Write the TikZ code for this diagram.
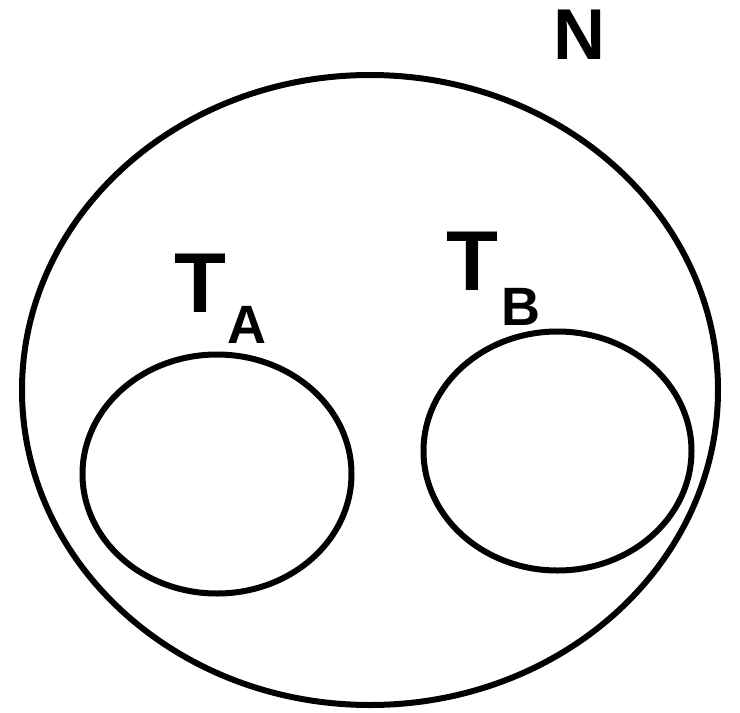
\documentclass[tikz,border=0pt]{standalone}
\usepackage{fontspec}
\setmainfont{Liberation Sans}
\begin{document}
\begin{tikzpicture}[x=1pt,y=-1pt,
  ring/.style={line width=6pt,draw=black},
  lbl/.style={inner sep=0pt,font=\bfseries}]
\useasboundingbox (0,0) rectangle (740,713);
\draw[ring] (370,390) ellipse [x radius=348, y radius=315];
\draw[ring] (217,474) ellipse [x radius=134.5, y radius=119.5];
\draw[ring] (557.5,451) ellipse [x radius=134, y radius=119.5];
\node[lbl,font=\bfseries\fontsize{72}{72}\selectfont] (n) at (579,35) {N};
\node[lbl,font=\bfseries\fontsize{85}{85}\selectfont] (ta) at (200,283.5) {T};
\node[lbl,font=\bfseries\fontsize{54}{54}\selectfont] (a) at (247,324.5) {A};
\node[lbl,font=\bfseries\fontsize{85}{85}\selectfont] (tb) at (472.5,261) {T};
\node[lbl,font=\bfseries\fontsize{54}{54}\selectfont] (b) at (521,306.5) {B};
\end{tikzpicture}
\end{document}
